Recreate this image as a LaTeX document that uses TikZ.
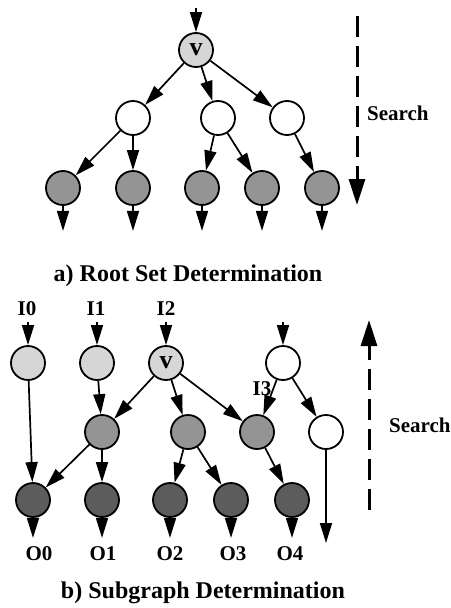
\documentclass[tikz,border=0pt]{standalone}
\usepackage{fontspec}
\setmainfont{Liberation Serif}
\usetikzlibrary{arrows.meta}
\definecolor{lightfill}{gray}{0.84}
\definecolor{midfill}{gray}{0.58}
\definecolor{darkfill}{gray}{0.36}
\tikzset{
  vert/.style={circle, draw=black, line width=1.8pt, minimum size=34pt, inner sep=0pt},
  lt/.style={vert, fill=lightfill},
  md/.style={vert, fill=midfill},
  dk/.style={vert, fill=darkfill},
  wt/.style={vert, fill=white},
  arr/.style={line width=1.7pt, -{Triangle[length=20pt,width=12pt]}},
  searcharr/.style={line width=3pt, dash pattern=on 21pt off 9pt, -{Triangle[length=26pt,width=16pt]}},
  lbl/.style={font=\fontsize{21}{25}\selectfont\bfseries, inner sep=0pt, anchor=base},
  ttl/.style={font=\fontsize{24}{28}\selectfont\bfseries, inner sep=0pt, anchor=base},
  vtxt/.style={font=\fontsize{26}{30}\selectfont\bfseries}
}
\begin{document}
\begin{tikzpicture}[x=1pt, y=-1pt]
\useasboundingbox (0,0) rectangle (450,608);

% ---------- a) root set determination ----------
\node[lt, vtxt] (v) at (196,50) {\raisebox{1pt}{v}};
\node[wt] (w0) at (133,118) {};
\node[wt] (w1) at (218,118) {};
\node[wt] (w2) at (287,118) {};
\node[md] (b0) at (63,188) {};
\node[md] (b1) at (133,188) {};
\node[md] (b2) at (202,188) {};
\node[md] (b3) at (262,188) {};
\node[md] (b4) at (322,188) {};

\coordinate (vin) at (196,8);
\draw[arr] (vin) -- (v);
\draw[arr] (v) -- (w0);
\draw[arr] (v) -- (w1);
\draw[arr] (v) -- (w2);
\draw[arr] (w0) -- (b0);
\draw[arr] (w0) -- (b1);
\draw[arr] (w1) -- (b2);
\draw[arr] (w1) -- (b3);
\draw[arr] (w2) -- (b4);
\foreach \n in {b0,b1,b2,b3,b4} {
  \coordinate (\n out) at ([yshift=-25pt]\n.south);
  \draw[arr] (\n) -- (\n out);
}

\coordinate (sa0) at (357,16);
\coordinate (sa1) at (357,205);
\draw[searcharr] (sa0) -- (sa1);
\node[lbl, anchor=west] (sa) at (367,113) {Search};

\node[ttl] (ta) at (188,281) {a) Root Set Determination};

% ---------- b) subgraph determination ----------
\node[lt] (i0) at (28,363) {};
\node[lt] (i1) at (97,363) {};
\node[lt, vtxt] (i2) at (166,363) {\raisebox{1pt}{v}};
\node[wt] (t3) at (283,363) {};
\node[md] (m0) at (102,432) {};
\node[md] (m1) at (188,432) {};
\node[md] (m2) at (257,432) {};
\node[wt] (m3) at (326,432) {};
\node[dk] (o0) at (33,500) {};
\node[dk] (o1) at (102,500) {};
\node[dk] (o2) at (170,500) {};
\node[dk] (o3) at (231,500) {};
\node[dk] (o4) at (292,500) {};

\node[lbl] (li0) at (27,315) {I0};
\node[lbl] (li1) at (96,315) {I1};
\node[lbl] (li2) at (166,315) {I2};
\node[lbl] (li3) at (262,395) {I3};

\foreach \n in {i0,i1,i2,t3} {
  \coordinate (\n in) at ([yshift=23pt]\n.north);
  \draw[arr] (\n in) -- (\n);
}
\draw[arr] (i0) -- (o0);
\draw[arr] (i1) -- (m0);
\draw[arr] (i2) -- (m0);
\draw[arr] (i2) -- (m1);
\draw[arr] (i2) -- (m2);
\draw[arr] (t3) -- (m2);
\draw[arr] (t3) -- (m3);
\draw[arr] (m0) -- (o0);
\draw[arr] (m0) -- (o1);
\draw[arr] (m1) -- (o2);
\draw[arr] (m1) -- (o3);
\draw[arr] (m2) -- (o4);
\foreach \n in {o0,o1,o2,o3,o4} {
  \coordinate (\n out) at ([yshift=-20pt]\n.south);
  \draw[arr] (\n) -- (\n out);
}
\coordinate (m3out) at (326,543);
\draw[arr] (m3) -- (m3out);

\node[lbl] (lo0) at (39,560) {O0};
\node[lbl] (lo1) at (103,560) {O1};
\node[lbl] (lo2) at (170,560) {O2};
\node[lbl] (lo3) at (233,560) {O3};
\node[lbl] (lo4) at (290,560) {O4};

\coordinate (sb0) at (369,510);
\coordinate (sb1) at (369,320);
\draw[searcharr] (sb0) -- (sb1);
\node[lbl, anchor=west] (sb) at (389,425) {Search};

\node[ttl] (tb) at (203,598) {b) Subgraph Determination};
\end{tikzpicture}
\end{document}
